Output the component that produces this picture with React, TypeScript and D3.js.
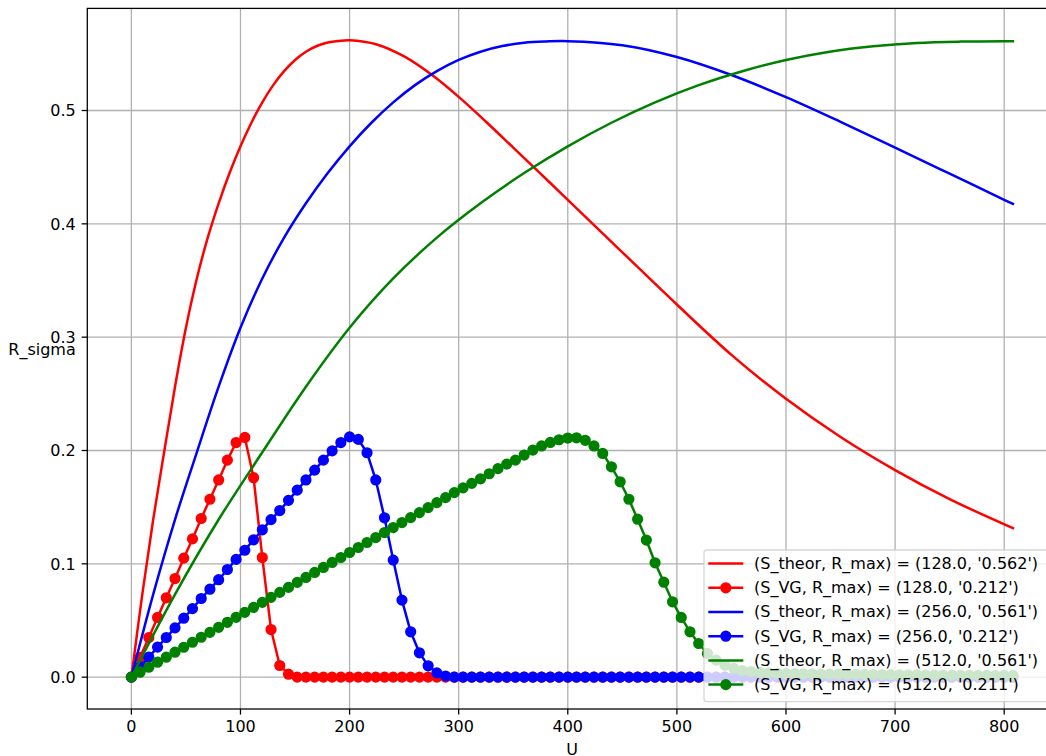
import React from "react";
import * as d3 from "d3";

// ---------- data ----------
const U_VG = [
  0, 8, 16, 24, 32, 40, 48, 56, 64, 72, 80, 88, 96, 104, 112, 120, 128, 136, 144, 152,
  160, 168, 176, 184, 192, 200, 208, 216, 224, 232, 240, 248, 256, 264, 272, 280, 288, 296, 304, 312,
  320, 328, 336, 344, 352, 360, 368, 376, 384, 392, 400, 408, 416, 424, 432, 440, 448, 456, 464, 472,
  480, 488, 496, 504, 512, 520, 528, 536, 544, 552, 560, 568, 576, 584, 592, 600, 608, 616, 624, 632,
  640, 648, 656, 664, 672, 680, 688, 696, 704, 712, 720, 728, 736, 744, 752, 760, 768, 776, 784, 792,
  800, 808,
];

const RED_VG = [
  0, 0.0175, 0.035, 0.0527, 0.07, 0.087, 0.105, 0.122, 0.14, 0.157,
  0.174, 0.1915, 0.207, 0.2115, 0.176, 0.1056, 0.042, 0.0103, 0.0026, 0,
  0, 0, 0, 0, 0, 0, 0, 0, 0, 0,
  0, 0, 0, 0, 0, 0, 0, 0, 0, 0,
  0, 0, 0, 0, 0, 0, 0, 0, 0, 0,
  0, 0, 0, 0, 0, 0, 0, 0, 0, 0,
  0, 0, 0, 0, 0, 0, 0, 0, 0, 0,
  0, 0, 0, 0, 0, 0, 0, 0, 0, 0,
  0, 0, 0, 0, 0, 0, 0, 0, 0, 0,
  0, 0, 0, 0, 0, 0, 0, 0, 0, 0,
  0, 0,
];

const BLUE_VG = [
  0, 0.0089, 0.0177, 0.0265, 0.035, 0.0435, 0.052, 0.0605, 0.0694, 0.0776,
  0.086, 0.095, 0.1039, 0.112, 0.1212, 0.13, 0.139, 0.147, 0.156, 0.165,
  0.174, 0.1827, 0.1915, 0.1997, 0.207, 0.212, 0.2098, 0.198, 0.174, 0.1406,
  0.1033, 0.068, 0.04, 0.0215, 0.01, 0.0038, 0.001, 0, 0, 0,
  0, 0, 0, 0, 0, 0, 0, 0, 0, 0,
  0, 0, 0, 0, 0, 0, 0, 0, 0, 0,
  0, 0, 0, 0, 0, 0, 0, 0, 0, 0,
  0, 0, 0, 0, 0, 0, 0, 0, 0, 0,
  0, 0, 0, 0, 0, 0, 0, 0, 0, 0,
  0, 0, 0, 0, 0, 0, 0, 0, 0, 0,
  0, 0,
];

const GREEN_VG = [
  0, 0.0044, 0.0088, 0.0132, 0.0176, 0.022, 0.0264, 0.0308, 0.0352, 0.0396,
  0.044, 0.0484, 0.0528, 0.0572, 0.0616, 0.066, 0.0704, 0.0748, 0.0792, 0.0836,
  0.088, 0.0924, 0.0968, 0.1012, 0.1056, 0.11, 0.1144, 0.1188, 0.1232, 0.1276,
  0.132, 0.1364, 0.1408, 0.1452, 0.1496, 0.154, 0.1584, 0.1628, 0.167, 0.171,
  0.175, 0.1795, 0.184, 0.188, 0.1915, 0.196, 0.2004, 0.204, 0.2071, 0.2095,
  0.211, 0.2112, 0.209, 0.204, 0.1974, 0.1856, 0.1724, 0.157, 0.1394, 0.121,
  0.1009, 0.0838, 0.0665, 0.0527, 0.04, 0.0297, 0.0209, 0.015, 0.0105, 0.0078,
  0.0058, 0.0048, 0.0042, 0.0037, 0.0034, 0.0032, 0.0031, 0.003, 0.0029, 0.0028,
  0.0027, 0.0026, 0.0025, 0.0025, 0.0024, 0.0023, 0.0022, 0.0022, 0.0021, 0.002,
  0.002, 0.0019, 0.0019, 0.0018, 0.0018, 0.0017, 0.0017, 0.0016, 0.0016, 0.0016,
  0.0015, 0.0015,
];

const RED_TH_U = [
  0, 10, 20, 30, 40, 50, 60, 70, 80, 90, 100, 110, 120, 130, 140, 150, 160, 170, 180, 190,
  200, 225, 250, 275, 300, 325, 350, 375, 400, 450, 500, 550, 600, 650, 700, 750, 808,
];
const RED_TH_R = [
  0, 0.0731, 0.1391, 0.1984, 0.2563, 0.3083, 0.3518, 0.3878, 0.4181, 0.4448,
  0.4684, 0.4892, 0.5072, 0.5224, 0.5347, 0.5446, 0.5519, 0.5569, 0.56, 0.5614,
  0.562, 0.5583, 0.5477, 0.5317, 0.512, 0.4901, 0.4673, 0.4443, 0.4212, 0.3749,
  0.3288, 0.2844, 0.2456, 0.2119, 0.1827, 0.1571, 0.1315,
];

const BLUE_TH_U = [
  0, 20, 40, 60, 80, 100, 120, 140, 160, 180, 200, 220, 240, 260, 280, 300, 320, 340, 360, 380,
  400, 450, 500, 550, 600, 650, 700, 750, 800, 808,
];
const BLUE_TH_R = [
  0, 0.0731, 0.1391, 0.1984, 0.2563, 0.3083, 0.3518, 0.3878, 0.4181, 0.4448,
  0.4684, 0.4892, 0.5072, 0.5224, 0.5347, 0.5446, 0.5519, 0.5569, 0.5598, 0.5609,
  0.5612, 0.5576, 0.5472, 0.5313, 0.5118, 0.49, 0.4673, 0.4443, 0.4212, 0.4176,
];

const GREEN_TH_U = [
  0, 40, 80, 120, 160, 200, 240, 280, 320, 360, 400, 440, 480, 520, 560, 600, 640, 680, 720, 760,
  800, 808,
];
const GREEN_TH_R = [
  0, 0.0731, 0.1391, 0.1984, 0.2563, 0.3083, 0.3518, 0.3878, 0.4181, 0.4448,
  0.4684, 0.4892, 0.5072, 0.5224, 0.5347, 0.5446, 0.5519, 0.5567, 0.5596, 0.5608,
  0.5612, 0.5612,
];

const X_TICKS = [0, 100, 200, 300, 400, 500, 600, 700, 800];
const Y_TICKS = [0, 0.1, 0.2, 0.3, 0.4, 0.5];
const Y_TICK_LABELS = ["0.0", "0.1", "0.2", "0.3", "0.4", "0.5"];

const LEGEND_LABELS = [
  "(S_theor, R_max) = (128.0, '0.562')",
  "(S_VG, R_max) = (128.0, '0.212')",
  "(S_theor, R_max) = (256.0, '0.561')",
  "(S_VG, R_max) = (256.0, '0.212')",
  "(S_theor, R_max) = (512.0, '0.561')",
  "(S_VG, R_max) = (512.0, '0.211')",
];

const X_LABEL = "U";
const Y_LABEL = "R_sigma";

// ---------- layout ----------
const W = 1046;
const H = 756;
const AX_L = 87.3;
const AX_R = 1057;
const AX_T = 8.4;
const AX_B = 709;
const FONT = "DejaVu Sans, Verdana, sans-serif";
const FS = 16;
const LW = 2.5;
const MR = 4.8;
const MEW = 1.6;
const RED = "#ff0000";
const BLUE = "#0000ff";
const GREEN = "#008000";

type Series = { u: number[]; r: number[]; color: string; markers: boolean };

const SERIES: Series[] = [
  { u: RED_TH_U, r: RED_TH_R, color: RED, markers: false },
  { u: U_VG, r: RED_VG, color: RED, markers: true },
  { u: BLUE_TH_U, r: BLUE_TH_R, color: BLUE, markers: false },
  { u: U_VG, r: BLUE_VG, color: BLUE, markers: true },
  { u: GREEN_TH_U, r: GREEN_TH_R, color: GREEN, markers: false },
  { u: U_VG, r: GREEN_VG, color: GREEN, markers: true },
];

export default function App() {
  const allU = SERIES.flatMap((s) => s.u);
  const allR = SERIES.flatMap((s) => s.r);
  const [uMin, uMax] = d3.extent(allU) as [number, number];
  const [rMin, rMax] = d3.extent(allR) as [number, number];
  const uPad = (uMax - uMin) * 0.05;
  const rPad = (rMax - rMin) * 0.05;

  const x = d3.scaleLinear().domain([uMin - uPad, uMax + uPad]).range([AX_L, AX_R]);
  const y = d3.scaleLinear().domain([rMin - rPad, rMax + rPad]).range([AX_B, AX_T]);

  const smooth = d3
    .line<[number, number]>()
    .x((d) => x(d[0]))
    .y((d) => y(d[1]))
    .curve(d3.curveCatmullRom.alpha(0.5));
  const straight = d3
    .line<[number, number]>()
    .x((d) => x(d[0]))
    .y((d) => y(d[1]));

  const legendX = 704;
  const legendTop = 550;
  const legendBottom = 701.7;
  const rowStep = 24.2;
  const row0 = 563.6;

  return (
    <svg
      width={W}
      height={H}
      style={{ position: "absolute", left: 0, top: 0, background: "#fff" }}
      fontFamily={FONT}
    >
      <defs>
        <clipPath id="axclip">
          <rect x={AX_L} y={AX_T} width={AX_R - AX_L} height={AX_B - AX_T} />
        </clipPath>
      </defs>
      <rect x={0} y={0} width={W} height={H} fill="#fff" />

      {/* grid */}
      <g stroke="#b0b0b0" strokeWidth={1.28}>
        {X_TICKS.map((t) => (
          <line key={"gx" + t} x1={x(t)} x2={x(t)} y1={AX_T} y2={AX_B} />
        ))}
        {Y_TICKS.map((t) => (
          <line key={"gy" + t} x1={AX_L} x2={AX_R} y1={y(t)} y2={y(t)} />
        ))}
      </g>

      {/* data */}
      <g clipPath="url(#axclip)">
        {SERIES.map((s, i) => {
          const pts = s.u.map((u, k) => [u, s.r[k]] as [number, number]);
          return (
            <g key={"s" + i}>
              <path
                d={(s.markers ? straight : smooth)(pts) || ""}
                fill="none"
                stroke={s.color}
                strokeWidth={LW}
                strokeLinejoin="round"
                strokeLinecap="square"
              />
              {s.markers &&
                pts.map((p, k) => (
                  <circle
                    key={k}
                    cx={x(p[0])}
                    cy={y(p[1])}
                    r={MR}
                    fill={s.color}
                    stroke={s.color}
                    strokeWidth={MEW}
                  />
                ))}
            </g>
          );
        })}
      </g>

      {/* spines */}
      <g stroke="#000" strokeWidth={1.28} fill="none">
        <rect x={AX_L} y={AX_T} width={AX_R - AX_L} height={AX_B - AX_T} />
      </g>

      {/* x ticks */}
      <g>
        {X_TICKS.map((t) => (
          <g key={"xt" + t}>
            <line x1={x(t)} x2={x(t)} y1={AX_B} y2={AX_B + 5.6} stroke="#000" strokeWidth={1.28} />
            <text x={x(t)} y={AX_B + 23.2} fontSize={FS} textAnchor="middle" fill="#000">
              {String(t)}
            </text>
          </g>
        ))}
      </g>
      {/* y ticks */}
      <g>
        {Y_TICKS.map((t, i) => (
          <g key={"yt" + t}>
            <line x1={AX_L - 5.6} x2={AX_L} y1={y(t)} y2={y(t)} stroke="#000" strokeWidth={1.28} />
            <text x={AX_L - 11.5} y={y(t) + 5.8} fontSize={FS} textAnchor="end" fill="#000">
              {Y_TICK_LABELS[i]}
            </text>
          </g>
        ))}
      </g>

      {/* axis labels */}
      <text x={(AX_L + AX_R) / 2} y={755} fontSize={FS} textAnchor="middle" fill="#000">
        {X_LABEL}
      </text>
      <text x={42} y={354.8} fontSize={FS} textAnchor="middle" fill="#000">
        {Y_LABEL}
      </text>

      {/* legend */}
      <g>
        <rect
          x={legendX}
          y={legendTop}
          width={AX_R - 8 - legendX}
          height={legendBottom - legendTop}
          rx={3}
          ry={3}
          fill="#ffffff"
          fillOpacity={0.8}
          stroke="#cccccc"
          strokeOpacity={0.8}
          strokeWidth={1.28}
        />
        {LEGEND_LABELS.map((lab, i) => {
          const s = SERIES[i];
          const cy = row0 + rowStep * i;
          return (
            <g key={"lg" + i}>
              <line x1={708.3} x2={743.3} y1={cy} y2={cy} stroke={s.color} strokeWidth={LW} />
              {s.markers && (
                <circle cx={725.8} cy={cy} r={MR} fill={s.color} stroke={s.color} strokeWidth={MEW} />
              )}
              <text x={754} y={cy + 5.4} fontSize={FS} fill="#000">
                {lab}
              </text>
            </g>
          );
        })}
      </g>
    </svg>
  );
}
